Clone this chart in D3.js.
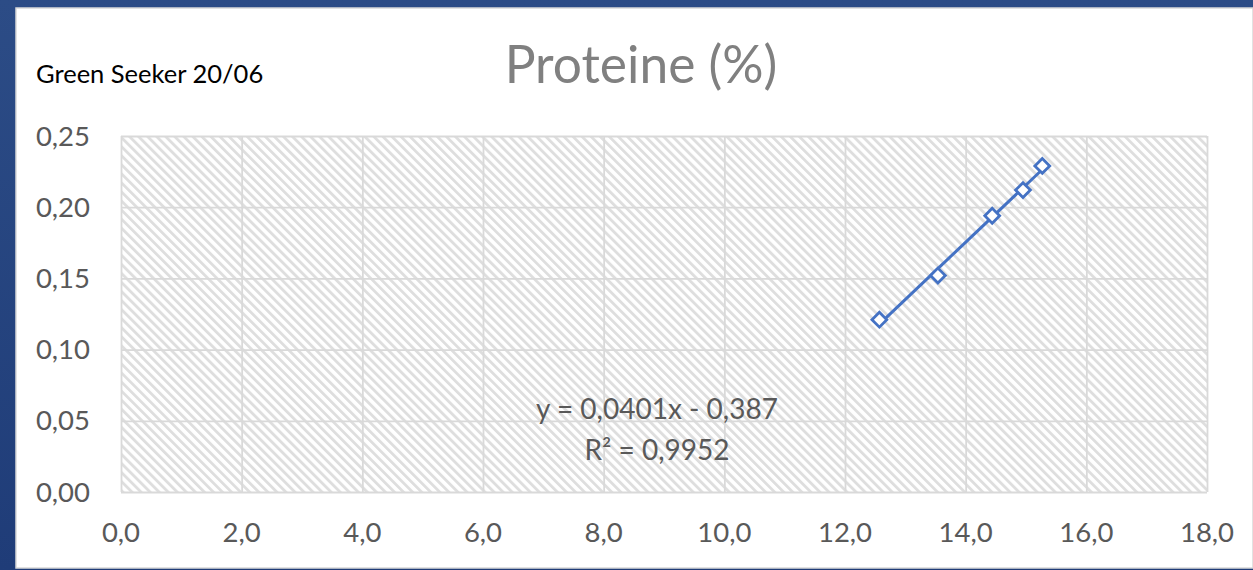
<!DOCTYPE html>
<html>
<head>
<meta charset="utf-8">
<script src="https://cdn.jsdelivr.net/npm/d3@7.9.0/dist/d3.min.js"></script>
<style>
  body { margin: 0; background: #2b4a85; }
  svg { display: block; }
</style>
</head>
<body>
<svg id="chart" width="1253" height="570"></svg>
<script>
// data
const protein = [12.57, 13.54, 14.44, 14.95, 15.27];
const greenSeeker = [0.121, 0.152, 0.194, 0.212, 0.229];
const xTicks = [0, 2, 4, 6, 8, 10, 12, 14, 16, 18];
const yTicks = [0, 0.05, 0.10, 0.15, 0.20, 0.25];
const equationLines = ['y = 0,0401x - 0,387', 'R² = 0,9952'];

const W = 1253, H = 570;
const margin = { top: 136, right: 46, bottom: 78, left: 121 };

const svg = d3.select('#chart');

// slide background + white card
let bg = svg.append('defs');
let grad = bg.append('linearGradient').attr('id', 'blueGrad').attr('x1', 0).attr('y1', 0).attr('x2', 0).attr('y2', 1);
grad.append('stop').attr('offset', '0%').attr('stop-color', '#2c4c86');
grad.append('stop').attr('offset', '100%').attr('stop-color', '#1f3c78');

let hatch = bg.append('pattern')
    .attr('id', 'hatch')
    .attr('patternUnits', 'userSpaceOnUse')
    .attr('width', 6.4)
    .attr('height', 6.4)
    .attr('patternTransform', 'rotate(-45)');
hatch.append('rect').attr('width', 6.4).attr('height', 6.4).attr('fill', '#ffffff');
hatch.append('rect').attr('width', 2.8).attr('height', 6.4).attr('fill', '#dedede');

svg.append('rect').attr('width', W).attr('height', H).attr('fill', 'url(#blueGrad)');
svg.append('rect')
    .attr('x', 16).attr('y', 8)
    .attr('width', W - 16).attr('height', H - 10)
    .attr('fill', '#ffffff')
    .attr('stroke', '#d9d9d9')
    .attr('stroke-width', 1.5);

const x = d3.scaleLinear().domain([0, 18]).range([margin.left, W - margin.right]);
const y = d3.scaleLinear().domain([0, 0.25]).range([H - margin.bottom, margin.top]);

// plot area
svg.append('rect')
    .attr('x', x(0)).attr('y', y(0.25))
    .attr('width', x(18) - x(0)).attr('height', y(0) - y(0.25))
    .attr('fill', 'url(#hatch)');

// grid
svg.append('g')
    .attr('transform', `translate(0,${y(0)})`)
    .call(d3.axisBottom(x).tickValues(xTicks).tickSize(-(y(0) - y(0.25))).tickFormat(''))
    .call(g => g.select('.domain').remove())
    .call(g => g.selectAll('line').attr('stroke', '#d9d9d9').attr('stroke-width', 1.8));

svg.append('g')
    .attr('transform', `translate(${x(0)},0)`)
    .call(d3.axisLeft(y).tickValues(yTicks).tickSize(-(x(18) - x(0))).tickFormat(''))
    .call(g => g.select('.domain').remove())
    .call(g => g.selectAll('line').attr('stroke', '#d9d9d9').attr('stroke-width', 1.8));

// tick labels
const fmtX = d => d3.format('.1f')(d).replace('.', ',');
const fmtY = d => d3.format('.2f')(d).replace('.', ',');

svg.append('g')
    .selectAll('text')
    .data(xTicks)
    .join('text')
    .attr('x', d => x(d))
    .attr('y', 542)
    .attr('text-anchor', 'middle')
    .attr('font-family', 'Lato, sans-serif')
    .attr('font-size', 27.5)
    .attr('fill', '#595959')
    .text(fmtX);

svg.append('g')
    .selectAll('text')
    .data(yTicks)
    .join('text')
    .attr('x', 90)
    .attr('y', d => y(d) + 9.5)
    .attr('text-anchor', 'end')
    .attr('font-family', 'Lato, sans-serif')
    .attr('font-size', 27.5)
    .attr('fill', '#595959')
    .text(fmtY);

// trendline (least squares on the points)
let mx = d3.mean(protein), my = d3.mean(greenSeeker);
let sxy = d3.sum(protein, (p, i) => (p - mx) * (greenSeeker[i] - my));
let sxx = d3.sum(protein, p => (p - mx) * (p - mx));
let slope = sxy / sxx;
let intercept = my - slope * mx;
let xExt = d3.extent(protein);

svg.append('line')
    .attr('x1', x(xExt[0])).attr('y1', y(slope * xExt[0] + intercept))
    .attr('x2', x(xExt[1])).attr('y2', y(slope * xExt[1] + intercept))
    .attr('stroke', '#4472c4')
    .attr('stroke-width', 3);

// points
let diamond = d3.symbol().type(d3.symbolSquare).size(110);
svg.append('g')
    .selectAll('path')
    .data(protein)
    .join('path')
    .attr('d', diamond)
    .attr('transform', (d, i) => `translate(${x(d)},${y(greenSeeker[i])}) rotate(45)`)
    .attr('fill', '#ffffff')
    .attr('stroke', '#4472c4')
    .attr('stroke-width', 2.8);

// equation label
svg.append('g')
    .selectAll('text')
    .data(equationLines)
    .join('text')
    .attr('x', 657)
    .attr('y', (d, i) => 419 + i * 41)
    .attr('text-anchor', 'middle')
    .attr('font-family', 'Lato, sans-serif')
    .attr('font-size', 28)
    .attr('fill', '#595959')
    .text(d => d);

// titles
svg.append('text')
    .attr('x', 641)
    .attr('y', 83)
    .attr('text-anchor', 'middle')
    .attr('font-family', 'Lato, sans-serif')
    .attr('font-size', 51.5)
    .attr('fill', '#808080')
    .text('Proteine (%)');

svg.append('text')
    .attr('x', 36)
    .attr('y', 83)
    .attr('font-family', 'Lato, sans-serif')
    .attr('font-size', 25.5)
    .attr('fill', '#000000')
    .text('Green Seeker 20/06');
</script>
</body>
</html>
